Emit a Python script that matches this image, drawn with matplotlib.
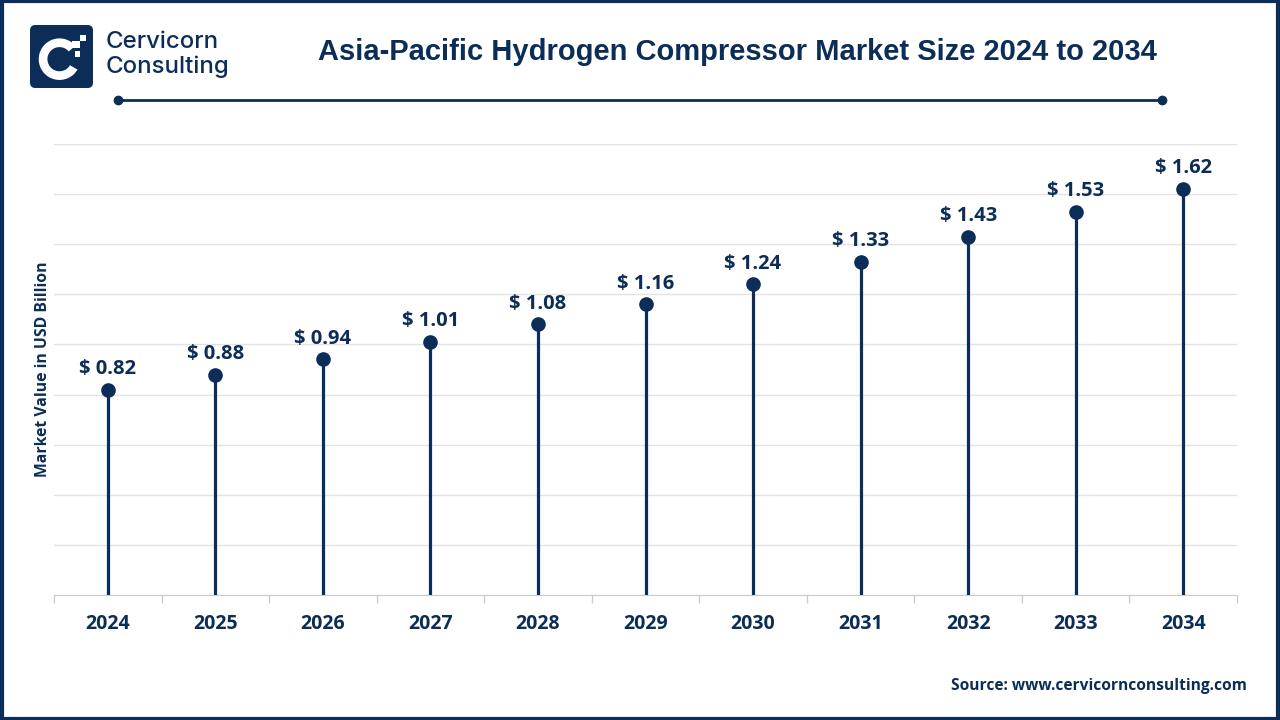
import matplotlib.pyplot as plt
from matplotlib.patches import FancyBboxPatch, Wedge, Rectangle
from matplotlib.lines import Line2D

# data
years = ['2024', '2025', '2026', '2027', '2028', '2029', '2030', '2031', '2032', '2033', '2034']
values = [0.82, 0.88, 0.94, 1.01, 1.08, 1.16, 1.24, 1.33, 1.43, 1.53, 1.62]

navy = '#0c2d57'
grid_col = '#e3e3e3'

plt.rcParams['font.family'] = ['Open Sans', 'DejaVu Sans']

fig = plt.figure(figsize=(12.8, 7.2), dpi=100)

# outer frame
fig.patches.append(Rectangle((0.0015, 0.002), 0.997, 0.996, transform=fig.transFigure,
                             fill=False, edgecolor=navy, linewidth=3))

# main chart
ax = fig.add_axes([54 / 1280, 1 - 595 / 720, 1183 / 1280, 451 / 720])
x = range(len(years))
ax.vlines(x, 0, values, color=navy, linewidth=2.3, zorder=3)
ax.plot(x, values, 'o', color=navy, markersize=9.5, zorder=4)
for i, v in enumerate(values):
    ax.text(i, v + 0.043, f'$ {v:.2f}', ha='center', va='bottom', fontsize=14.5,
            fontweight='bold', color=navy)

ax.set_xlim(-0.5, len(years) - 0.5)
ax.set_ylim(0, 1.8)
ax.set_yticks([0.2 * k for k in range(10)])
ax.yaxis.grid(True, color=grid_col, linewidth=1)
ax.set_axisbelow(True)
ax.tick_params(axis='y', left=False, labelleft=False)
ax.set_xticks([k + 0.5 for k in range(-1, len(years))], minor=True)
ax.set_xticks(list(x))
ax.set_xticklabels(years, fontsize=14, fontweight='bold', color=navy)
ax.tick_params(axis='x', which='major', length=0, pad=14)
ax.tick_params(axis='x', which='minor', length=6, color='#cccccc', width=1)
for s in ['top', 'right', 'left']:
    ax.spines[s].set_visible(False)
ax.spines['bottom'].set_color('#cccccc')
ax.set_ylabel('Market Value in USD Billion', fontsize=11.3, fontweight='bold', color=navy,
              labelpad=2)

# title and underline
fig.text(737 / 1280, 1 - 52 / 720, 'Asia-Pacific Hydrogen Compressor Market Size 2024 to 2034',
         ha='center', va='center', fontsize=21, fontweight='bold', color=navy,
         family=['Liberation Sans', 'DejaVu Sans'])
fig.lines.append(Line2D([118 / 1280, 1162 / 1280], [1 - 100 / 720] * 2, transform=fig.transFigure,
                        color=navy, linewidth=2, marker='o', markersize=6, markevery=[0, 1]))

# logo
lax = fig.add_axes([28 / 1280, 1 - 90 / 720, 67 / 1280, 67 / 720])
lax.set_xlim(0, 1)
lax.set_ylim(0, 1)
lax.axis('off')
lax.add_patch(FancyBboxPatch((0.03, 0.03), 0.94, 0.94, boxstyle='round,pad=0,rounding_size=0.08',
                             facecolor=navy, edgecolor='none'))
lax.add_patch(Wedge((0.47, 0.46), 0.31, 40, 330, width=0.13, facecolor='white', edgecolor='none'))
lax.add_patch(Rectangle((0.66, 0.62), 0.11, 0.11, facecolor='white', edgecolor='none'))
lax.add_patch(Rectangle((0.77, 0.73), 0.09, 0.09, facecolor='white', edgecolor='none'))
lax.add_patch(Rectangle((0.70, 0.50), 0.08, 0.08, facecolor='white', edgecolor='none'))
fig.text(106 / 1280, 1 - 42 / 720, 'Cervicorn', ha='left', va='center', fontsize=17.3,
         color=navy, fontweight='medium', family=['Inter', 'DejaVu Sans'])
fig.text(106 / 1280, 1 - 67 / 720, 'Consulting', ha='left', va='center', fontsize=17.3,
         color=navy, fontweight='medium', family=['Inter', 'DejaVu Sans'])

# source
fig.text(1247 / 1280, 1 - 686 / 720, 'Source: www.cervicornconsulting.com', ha='right',
         va='center', fontsize=11.2, fontweight='bold', color=navy)

plt.savefig('out.png', dpi=100)
